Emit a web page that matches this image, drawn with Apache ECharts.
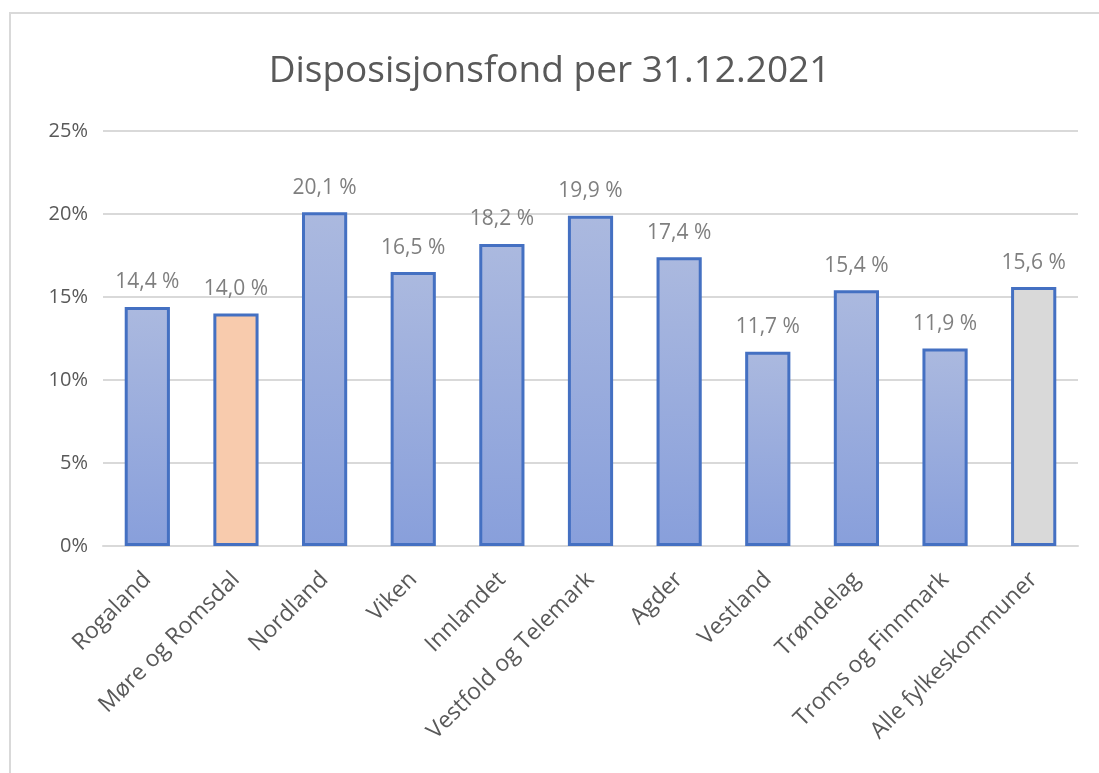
<!DOCTYPE html>
<html>
<head>
<meta charset="utf-8">
<script src="https://cdn.jsdelivr.net/npm/echarts@6/dist/echarts.min.js"></script>
<style>
  html, body { margin: 0; padding: 0; background: #fff; }
  #chart { width: 1099px; height: 773px; }
</style>
</head>
<body>
<div id="chart"></div>
<script>
const categories = [
  "Rogaland", "Møre og Romsdal", "Nordland", "Viken", "Innlandet",
  "Vestfold og Telemark", "Agder", "Vestland", "Trøndelag",
  "Troms og Finnmark", "Alle fylkeskommuner"
];
const values = [14.4, 14.0, 20.1, 16.5, 18.2, 19.9, 17.4, 11.7, 15.4, 11.9, 15.6];
const yTicks = [0, 5, 10, 15, 20, 25];

const FONT = "Open Sans";
const blueFill = new echarts.graphic.LinearGradient(0, 0, 0, 1, [
  { offset: 0, color: "#abb9df" },
  { offset: 1, color: "#889fdb" }
]);
const specialFill = {
  "Møre og Romsdal": "#f8cbad",
  "Alle fylkeskommuner": "#d9d9d9"
};

const chart = echarts.init(document.getElementById("chart"));
chart.setOption({
  backgroundColor: "#fff",
  animation: false,
  graphic: [{
    type: "rect",
    shape: { x: 10, y: 13, width: 1200, height: 900 },
    style: { fill: "none", stroke: "#d9d9d9", lineWidth: 2 },
    silent: true
  }],
  title: {
    text: "Disposisjonsfond per 31.12.2021",
    left: "center",
    top: 48,
    textStyle: { fontFamily: FONT, fontSize: 37, fontWeight: "normal", color: "#595959" }
  },
  grid: { left: 103, right: 21, top: 131, bottom: 227 },
  xAxis: {
    type: "category",
    data: categories,
    axisLine: { lineStyle: { color: "#d9d9d9", width: 2 } },
    axisTick: { show: false },
    axisLabel: {
      rotate: 45,
      interval: 0,
      margin: 30,
      color: "#595959",
      fontFamily: FONT,
      fontSize: 23
    }
  },
  yAxis: {
    type: "value",
    min: yTicks[0],
    max: yTicks[yTicks.length - 1],
    interval: yTicks[1] - yTicks[0],
    axisLine: { show: false },
    axisTick: { show: false },
    axisLabel: {
      formatter: "{value}%",
      margin: 15,
      color: "#595959",
      fontFamily: FONT,
      fontSize: 20
    },
    splitLine: { lineStyle: { color: "#d9d9d9", width: 2 } }
  },
  series: [{
    type: "bar",
    barWidth: "51%",
    data: values.map((v, i) => ({
      value: v,
      itemStyle: {
        color: specialFill[categories[i]] || blueFill,
        borderColor: "#4470c2",
        borderWidth: 3
      }
    })),
    label: {
      show: true,
      position: "top",
      distance: 14,
      color: "#7f7f7f",
      fontFamily: FONT,
      fontSize: 21,
      formatter: (p) => p.value.toFixed(1).replace(".", ",") + " %"
    }
  }]
});
</script>
</body>
</html>
